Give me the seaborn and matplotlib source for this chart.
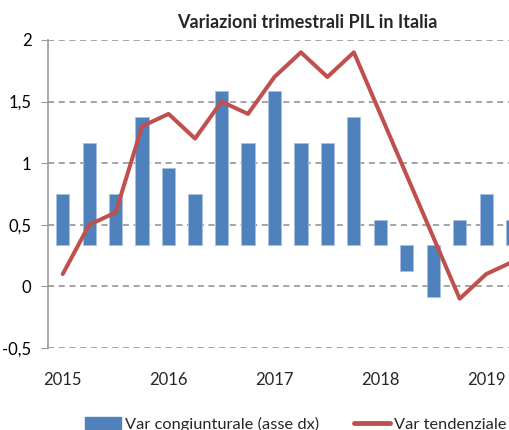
import numpy as np
import pandas as pd
import matplotlib
matplotlib.use("Agg")
import matplotlib.pyplot as plt
import seaborn as sns
from matplotlib.patches import Patch
from matplotlib.lines import Line2D

# Dati trimestrali (lettura dal grafico)
quarters = ['2015Q1', '2015Q2', '2015Q3', '2015Q4',
            '2016Q1', '2016Q2', '2016Q3', '2016Q4',
            '2017Q1', '2017Q2', '2017Q3', '2017Q4',
            '2018Q1', '2018Q2', '2018Q3', '2018Q4',
            '2019Q1', '2019Q2']
var_cong = [0.1, 0.2, 0.1, 0.25, 0.15, 0.1, 0.3, 0.2, 0.3, 0.2, 0.2, 0.25,
            0.05, -0.05, -0.1, 0.05, 0.1, 0.05]
var_tend = [0.1, 0.5, 0.6, 1.3, 1.4, 1.2, 1.5, 1.4, 1.7, 1.9, 1.7, 1.9,
            1.4, 0.9, 0.4, -0.1, 0.1, 0.2]
left_ticks = [-0.5, 0, 0.5, 1, 1.5, 2]
left_labels = ['-0,5', '0', '0,5', '1', '1,5', '2']

BLUE = '#4F81BD'
RED = '#C0504D'
GRID = '#8C8C8C'

df = pd.DataFrame({'q': quarters, 'cong': var_cong, 'tend': var_tend})
df['pos'] = np.arange(len(df))
year_pos = df.loc[df['q'].str.endswith('Q1'), 'pos'].to_list()
year_lab = df.loc[df['q'].str.endswith('Q1'), 'q'].str[:4].to_list()

sns.set_style('white')
plt.rcParams['font.family'] = ['Lato', 'DejaVu Sans']

fig = plt.figure(figsize=(5.1, 4.3), dpi=100)
ax = fig.add_axes([48/510, 1-348/430, 462/510, 308/430])

# Asse sinistro: griglia e etichette
ax.set_ylim(-0.5, 2)
ax.set_yticks(left_ticks)
ax.set_yticklabels(left_labels, fontsize=12)
ax.yaxis.grid(True, color=GRID, linestyle=(0, (4, 3)), linewidth=1.1)
ax.xaxis.grid(False)
for s in ['top', 'right', 'bottom']:
    ax.spines[s].set_visible(False)
ax.spines['left'].set_color('#9A9A9A')
ax.spines['left'].set_linewidth(1.2)
ax.tick_params(axis='y', length=5, color='#9A9A9A', pad=7, labelcolor='black')
ax.tick_params(axis='x', length=0, pad=17, labelsize=12)

# Asse destro (nascosto): barre congiunturali
ax2 = ax.twinx()
sns.barplot(data=df, x='pos', y='cong', ax=ax2, native_scale=True, width=0.5,
            color=BLUE, edgecolor='#A7C0E0', linewidth=0.6, saturation=1)
ax2.set_ylim(-0.2, 0.4)
ax2.axis('off')

# Linea tendenziale sopra le barre
ax3 = ax.twinx()
sns.lineplot(data=df, x='pos', y='tend', ax=ax3, color=RED, linewidth=2.9)
ax3.set_ylim(ax.get_ylim())
ax3.axis('off')

for a in (ax, ax2, ax3):
    a.set_xlim(-0.556, 16.9)
ax.set_xticks(year_pos)
ax.set_xticklabels(year_lab)
ax.set_xlabel('')
ax.set_ylabel('')

fig.text(307/510, 1-22/430, 'Variazioni trimestrali PIL in Italia',
         ha='center', va='center', fontsize=13, fontweight='bold')

handles = [Patch(facecolor=BLUE, edgecolor=BLUE),
           Line2D([0], [0], color=RED, linewidth=3.5)]
fig.legend(handles, ['Var congiunturale (asse dx)', 'Var tendenziale'],
           loc='center left', bbox_to_anchor=(85/510, 1-424/430), ncol=2,
           frameon=False, borderpad=0, borderaxespad=0, fontsize=11.8,
           handlelength=2.2, handletextpad=0.25, columnspacing=2.1)

fig.savefig('out.png', dpi=100)
